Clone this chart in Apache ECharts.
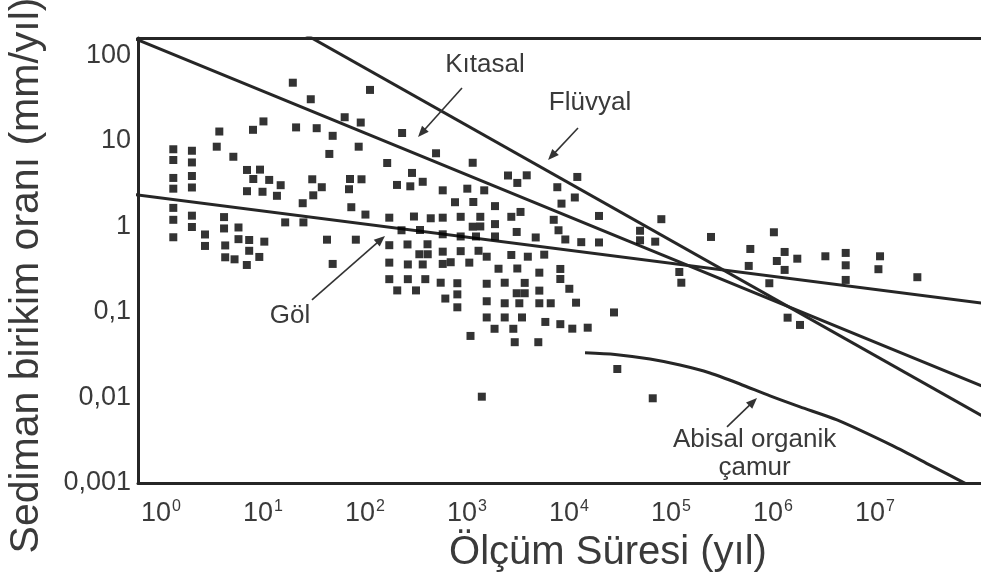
<!DOCTYPE html>
<html><head><meta charset="utf-8">
<script src="https://cdn.jsdelivr.net/npm/echarts@6/dist/echarts.min.js"></script>
<style>html,body{margin:0;padding:0;background:#fff}#c{width:981px;height:579px}</style>
</head><body><div id="c"></div>
<script>
// ---- data (years, mm/yr) ----
const xTickExponents = [0, 1, 2, 3, 4, 5, 6, 7];
const yTickLabels = {'-3': '0,001', '-2': '0,01', '-1': '0,1', '0': '1', '1': '10', '2': '100'};
const xRange = [0.595, 1.094e8];
const yRange = [0.001, 158.5];

const ratesShort = [
  [1.32,7.94],[1.32,5.95],[1.32,3.67],[1.32,2.75],[1.32,1.64],[1.32,1.19],[1.32,0.744],
  [2.01,7.63],[2.01,5.57],[2.01,3.87],[2.01,2.84],[2.01,1.33],[2.01,0.981],
  [2.70,0.802],[2.70,0.589],[3.52,8.51],[3.73,12.8],[4.15,1.28],[4.15,0.943],[4.26,0.597],[4.26,0.434],
  [5.12,6.49],[5.26,0.411],[5.75,0.968],[5.75,0.707],[6.94,0.353],[6.97,4.55],[6.97,2.57],[7.32,0.691],
  [7.32,0.517],[7.98,13.4],[8.03,3.57],[9.2,0.438],[9.35,4.59],[9.89,2.53],[10.1,16.8],[10.3,0.661],
  [11.5,3.48],[13.7,2.27],[14.9,3.02],[16.5,1.11],[19.6,47.6],[21.1,14.3],[24.5,1.86],[24.9,1.11],
  [29.4,30.5],[30.4,3.54],[33.6,14.0],[31.1,2.30],[37.7,2.86],[42.4,0.697],[44.7,7.0],[48.2,11.4],
  [48.2,0.363],[63.2,18.8],[69.7,2.71],[71.3,3.57],[73.4,1.67],[81.3,0.697],[86.7,8.51],[90.8,16.3],[92.4,3.54]
];
const ratesMid = [
  [101,1.37],[112,39.2],[165,5.49],[173,1.26],[173,0.601],[173,0.376],[173,0.241],[206,3.04],[207,0.178],
  [231,12.3],[228,0.898],[261,0.613],[263,0.358],[263,0.241],[278,2.93],[289,4.20],[302,1.30],[316,0.178],
  [341,0.471],[346,0.905],[368,3.31],[368,0.358],[390,0.241],[410,0.616],[412,0.471],[441,1.24],[497,7.13],
  [552,0.219],[578,2.63],[578,1.26],[578,0.806],[578,0.505],[578,0.363],[613,0.143],[692,0.380],[763,1.91],
  [804,0.216],[804,0.160],[804,0.113],[867,1.29],[867,0.760],[867,0.512],[1007,2.75],[1053,0.376],[1082,0.0523],
  [1137,5.52],[1137,0.989],[1153,1.92],[1225,0.760],[1297,0.517],[1350,1.29],[1350,0.995],[1397,0.0102],
  [1475,2.63],[1560,0.441],[1560,0.213],[1560,0.133],[1560,0.0860],[1862,0.0634],[1882,1.72],[1882,1.06],
  [1882,0.760],[2037,0.319],[2342,0.219],[2342,0.126],[2342,0.0860],[2523,3.92],[2718,1.29],[2718,0.462],
  [2845,0.0634],[2937,0.0442],[3070,0.858],[3113,3.21],[3113,0.321],[3258,0.126],[3346,1.47],[3460,0.0860],
  [3679,0.218],[3070,0.165],[3679,0.165],[3850,3.94],[3947,0.441],[4716,0.740],[5000,0.0442],[5117,0.287],
  [5117,0.177],[5117,0.126],[5715,0.466],[5860,0.0762],[6618,0.126],[7080,1.19],[7680,2.86],[7890,0.898],
  [8220,0.317],[8220,0.242],[8220,0.0718],[8440,1.84],[9200,0.701]
];
const ratesLong = [
  [10070,0.186],[10770,0.0636],[11400,2.17],[11720,0.128],[12060,3.77],[13180,0.652],[15250,0.0653],
  [19680,1.32],[19680,0.647],[27610,0.0984],[29750,0.0215],[49700,0.886],[49700,0.686],[66200,0.00977],
  [70000,0.661],[80400,1.21],[120600,0.292],[126200,0.219],[246600,0.750],[578000,0.344],[599000,0.543],
  [920000,0.216],[1020000,0.851],[1090000,0.393],[1300000,0.501],[1300000,0.309],[1390000,0.0855],
  [1730000,0.418],[1840000,0.0703],[3260000,0.446],[5160000,0.488],[5160000,0.350],[5160000,0.236],
  [10800000,0.315],[11200000,0.446],[26000000,0.254]
];

const kitasal = [[0.5,164],[1e9,0.00467]];
const fluvyal = [[10,332],[1e9,0.0014]];
const gol = [[0.1,3.05],[1e9,0.0906]];
const abisal = [[14350,0.0333],[28250,0.0318],[62200,0.0281],[122500,0.0239],[241000,0.0193],
  [474000,0.01436],[935000,0.0104],[1.84e6,0.00774],[4.24e6,0.00545],[1.5e7,0.00271],[3.46e7,0.00162],[8.17e7,0.00095]];

// annotation labels: text, label position, arrow tail, arrow head (data coords)
const annLabels = [
  {text: 'Kıtasal', at: [1500, 76.7], tail: [893, 41.3], head: [331, 11.05]},
  {text: 'Flüvyal', at: [16070, 27.6], tail: [12250, 14.1], head: [6230, 5.95]},
  {text: 'Göl', at: [18.4, 0.0895], tail: [30.2, 0.138], head: [157, 0.77]},
  {text: 'Abisal organik\nçamur', at: [660000, 0.0022], tail: [354000, 0.00452], head: [697000, 0.00985]}
];

const INK = '#262626';
const TXT = '#3a3a3a';
const FONT = '"Liberation Sans", Arial, sans-serif';

function isPow10(v) { const l = Math.log10(v); return Math.abs(l - Math.round(l)) < 1e-6; }

const chart = echarts.init(document.getElementById('c'), null, {renderer: 'canvas'});
const lineStyle = {color: INK, width: 3};
const option = {
  animation: false,
  backgroundColor: '#fff',
  grid: {left: 138, right: 0, top: 38, bottom: 96, containLabel: false, outerBoundsMode: 'none'},
  xAxis: [{
    type: 'log', logBase: 10, min: xRange[0], max: xRange[1],
    name: 'Ölçüm Süresi (yıl)', nameLocation: 'middle', nameGap: 50,
    nameTextStyle: {fontFamily: FONT, fontSize: 40, color: TXT, padding: [0, 0, 0, 97]},
    axisLine: {show: true, onZero: false, lineStyle: {color: INK, width: 3}},
    axisTick: {show: false}, splitLine: {show: false}, minorTick: {show: false},
    axisLabel: {
      margin: 16, showMinLabel: true, showMaxLabel: true,
      formatter: v => {
        if (!isPow10(v)) return '';
        const e = Math.round(Math.log10(v));
        return xTickExponents.indexOf(e) >= 0 ? '{b|10}{s|' + e + '}' : '';
      },
      rich: {
        b: {fontFamily: FONT, fontSize: 27, color: TXT, lineHeight: 30},
        s: {fontFamily: FONT, fontSize: 16, color: TXT, verticalAlign: 'top', lineHeight: 16, padding: [0, 0, 0, 1]}
      }
    }
  }, {
    type: 'log', logBase: 10, min: xRange[0], max: xRange[1], position: 'top',
    axisLine: {show: true, onZero: false, lineStyle: {color: INK, width: 3}},
    axisTick: {show: false}, axisLabel: {show: false}, splitLine: {show: false}
  }],
  yAxis: {
    type: 'log', logBase: 10, min: yRange[0], max: yRange[1],
    name: 'Sediman birikim oranı (mm/yıl)', nameLocation: 'middle', nameGap: 91,
    nameTextStyle: {fontFamily: FONT, fontSize: 41, color: TXT, padding: [0, 30, 0, 0]},
    axisLine: {show: true, onZero: false, lineStyle: {color: INK, width: 3}},
    axisTick: {show: false}, splitLine: {show: false},
    axisLabel: {
      margin: 7, fontFamily: FONT, fontSize: 27, color: TXT, showMinLabel: true, showMaxLabel: true,
      formatter: v => isPow10(v) ? (yTickLabels[String(Math.round(Math.log10(v)))] || '') : ''
    }
  },
  series: [
    {type: 'line', data: kitasal, showSymbol: false, symbol: 'none', lineStyle: lineStyle, clip: true, z: 3},
    {type: 'line', data: fluvyal, showSymbol: false, symbol: 'none', lineStyle: lineStyle, clip: true, z: 3},
    {type: 'line', data: gol, showSymbol: false, symbol: 'none', lineStyle: lineStyle, clip: true, z: 3},
    {type: 'line', data: abisal, showSymbol: false, symbol: 'none', smooth: 0.25, lineStyle: lineStyle, clip: true, z: 3},
    {type: 'scatter', data: ratesShort, symbol: 'rect', symbolSize: 8, itemStyle: {color: '#000'}, z: 4},
    {type: 'scatter', data: ratesMid, symbol: 'rect', symbolSize: 8, itemStyle: {color: '#000'}, z: 4},
    {type: 'scatter', data: ratesLong, symbol: 'rect', symbolSize: 8, itemStyle: {color: '#000'}, z: 4}
  ]
};
chart.setOption(option);

// annotations placed through the axes
const gfx = [];
annLabels.forEach(a => {
  const p = chart.convertToPixel({xAxisIndex: 0, yAxisIndex: 0}, a.at);
  const t = chart.convertToPixel({xAxisIndex: 0, yAxisIndex: 0}, a.tail);
  const h = chart.convertToPixel({xAxisIndex: 0, yAxisIndex: 0}, a.head);
  gfx.push({type: 'text', x: p[0], y: p[1], z: 10,
    style: {text: a.text, fill: TXT, font: '26px ' + FONT, align: 'center', verticalAlign: 'middle', lineHeight: 28}});
  const dx = h[0] - t[0], dy = h[1] - t[1], L = Math.hypot(dx, dy);
  const ux = dx / L, uy = dy / L, nx = -uy, ny = ux, len = 11, wid = 4.5;
  gfx.push({type: 'line', z: 10, shape: {x1: t[0], y1: t[1], x2: h[0] - ux * 6, y2: h[1] - uy * 6},
    style: {stroke: '#333', lineWidth: 1.6}});
  gfx.push({type: 'polygon', z: 10, shape: {points: [[h[0], h[1]],
    [h[0] - ux * len + nx * wid, h[1] - uy * len + ny * wid],
    [h[0] - ux * len - nx * wid, h[1] - uy * len - ny * wid]]}, style: {fill: '#333'}});
});
chart.setOption({graphic: gfx});
</script>
</body></html>
